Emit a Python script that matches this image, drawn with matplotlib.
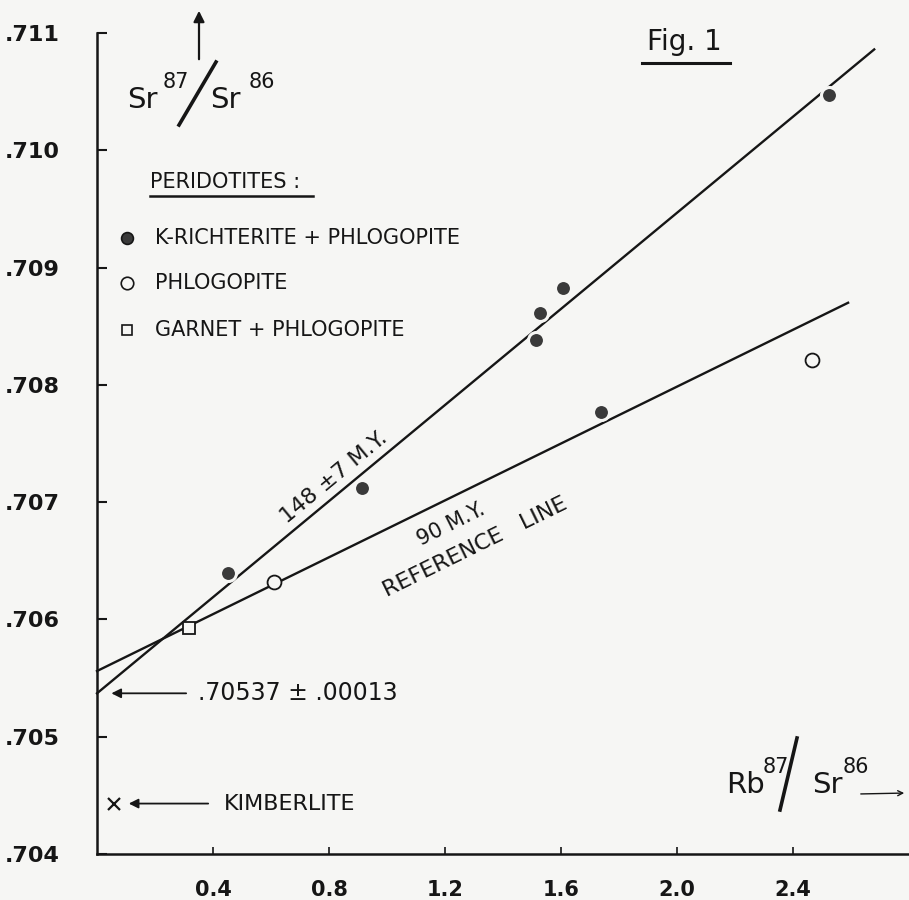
import matplotlib
matplotlib.use("Agg")
import matplotlib.pyplot as plt
from matplotlib.lines import Line2D

# Rb-Sr isochron data
k_richterite_x = [0.45, 0.914, 1.514, 1.528, 1.607, 1.738, 2.524]
k_richterite_y = [0.70640, 0.70712, 0.70838, 0.70861, 0.70883, 0.70777, 0.71047]
phlogopite_x = [0.61, 2.466]
phlogopite_y = [0.70632, 0.70821]
garnet_x = [0.317]
garnet_y = [0.70593]
kimberlite_x = [0.059]
kimberlite_y = [0.70443]

# fitted lines: (x, y) of the two ends
isochron_x = [0.0, 2.68]
isochron_y = [0.70537, 0.71086]
reference_x = [0.0, 2.59]
reference_y = [0.70556, 0.70870]

y_ticks = [0.704, 0.705, 0.706, 0.707, 0.708, 0.709, 0.710, 0.711]
y_labels = [".704", ".705", ".706", ".707", ".708", ".709", ".710", ".711"]
x_ticks = [0.4, 0.8, 1.2, 1.6, 2.0, 2.4]
x_labels = ["0.4", "0.8", "1.2", "1.6", "2.0", "2.4"]

BG = "#f6f6f4"
INK = "#161616"
W, H = 909, 900


def px(x, y):
    # pixel position (from top-left) to figure fraction
    return x / W, 1 - y / H


def main():
    fig = plt.figure(figsize=(W / 100, H / 100), dpi=100, facecolor=BG)
    ax = fig.add_axes([97 / W, 46 / H, 812 / W, 821 / H])
    ax.set_facecolor(BG)
    ax.set_xlim(0, 2.8)
    ax.set_ylim(0.704, 0.711)

    for side in ["top", "right"]:
        ax.spines[side].set_visible(False)
    for side in ["left", "bottom"]:
        ax.spines[side].set_linewidth(1.8)
        ax.spines[side].set_color(INK)

    ax.set_yticks(y_ticks)
    ax.set_yticklabels(y_labels, fontsize=16, fontweight="bold", color=INK)
    ax.set_xticks(x_ticks)
    ax.set_xticklabels(x_labels, fontsize=15, fontweight="bold", color=INK)
    ax.tick_params(axis="y", direction="in", length=7, width=1.5, pad=27, colors=INK)
    ax.tick_params(axis="x", direction="in", length=5, width=1.2, pad=19, colors=INK)

    # the two lines
    ax.plot(isochron_x, isochron_y, color=INK, lw=1.7, clip_on=False, zorder=2)
    ax.plot(reference_x, reference_y, color=INK, lw=1.7, clip_on=False, zorder=2)

    # samples (background-coloured edge breaks the line round each dot)
    ax.plot(k_richterite_x, k_richterite_y, "o", ms=11.5, mfc="#3a3a3a", mec=BG,
            mew=2.2, zorder=3, clip_on=False)
    ax.plot(phlogopite_x, phlogopite_y, "o", ms=10, mfc=BG, mec=INK,
            mew=1.3, zorder=3)
    ax.plot(garnet_x, garnet_y, "s", ms=8, mfc=BG, mec=INK, mew=1.3, zorder=3)
    ax.plot(kimberlite_x, kimberlite_y, "x", ms=8, mec=INK, mew=1.6, zorder=3)

    # intercept and kimberlite arrows
    ax.annotate("", xy=(0.04, isochron_y[0]), xytext=(0.317, isochron_y[0]),
                arrowprops=dict(arrowstyle="-|>", color=INK, lw=1.3,
                                mutation_scale=14))
    ax.text(0.348, isochron_y[0], ".70537 \u00b1 .00013", fontsize=17,
            color=INK, va="center", ha="left")
    ax.annotate("", xy=(0.10, kimberlite_y[0]), xytext=(0.393, kimberlite_y[0]),
                arrowprops=dict(arrowstyle="-|>", color=INK, lw=1.3,
                                mutation_scale=14))
    ax.text(0.438, kimberlite_y[0], "KIMBERLITE", fontsize=16, color=INK,
            va="center", ha="left")

    # labels along the lines
    ax.text(0.817, 0.707214, "148 \u00b17 M.Y.", fontsize=16, color=INK,
            rotation=39.6, rotation_mode="anchor", ha="center", va="center")
    ax.text(1.221, 0.706812, "90 M.Y.", fontsize=15, color=INK,
            rotation=26.5, rotation_mode="anchor", ha="center", va="center")
    ax.text(1.303, 0.706615, "REFERENCE   LINE", fontsize=16, color=INK,
            rotation=26.1, rotation_mode="anchor", ha="center", va="center")

    tf = fig.transFigure

    # Fig. 1 title
    fig.text(*px(647, 50), "Fig. 1", fontsize=20, color=INK, ha="left", va="baseline")
    fig.add_artist(Line2D(*zip(px(642, 63), px(730, 63)), color=INK, lw=2.2,
                          transform=tf))

    # y axis label Sr87/Sr86 with arrow
    fig.add_artist(Line2D(*zip(px(179, 125), px(216, 62)), color=INK, lw=2.6,
                          transform=tf))
    fig.text(*px(127, 108), "Sr", fontsize=21, color=INK, ha="left", va="baseline")
    fig.text(*px(163, 88), "87", fontsize=15, color=INK, ha="left", va="baseline")
    fig.text(*px(210, 108), "Sr", fontsize=21, color=INK, ha="left", va="baseline")
    fig.text(*px(249, 88), "86", fontsize=15, color=INK, ha="left", va="baseline")
    fig.add_artist(matplotlib.patches.FancyArrowPatch(
        px(199, 62), px(199, 8), transform=tf, arrowstyle="-|>",
        mutation_scale=16, color=INK, lw=1.6))

    # x axis label Rb87/Sr86 with arrow
    fig.add_artist(Line2D(*zip(px(780, 810), px(797, 738)), color=INK, lw=2.6,
                          transform=tf))
    fig.text(*px(726, 793), "Rb", fontsize=21, color=INK, ha="left", va="baseline")
    fig.text(*px(763, 773), "87", fontsize=15, color=INK, ha="left", va="baseline")
    fig.text(*px(812, 793), "Sr", fontsize=21, color=INK, ha="left", va="baseline")
    fig.text(*px(843, 773), "86", fontsize=15, color=INK, ha="left", va="baseline")
    fig.add_artist(matplotlib.patches.FancyArrowPatch(
        px(858, 794), px(907, 793), transform=tf, arrowstyle="->",
        mutation_scale=9, color=INK, lw=1.0))

    # key
    fig.text(*px(150, 188), "PERIDOTITES :", fontsize=15, color=INK,
             ha="left", va="baseline")
    fig.add_artist(Line2D(*zip(px(150, 196), px(313, 196)), color=INK, lw=1.8,
                          transform=tf))
    key_rows = [
        (238, "o", "#3a3a3a", "K-RICHTERITE + PHLOGOPITE", 8.5),
        (283, "o", BG, "PHLOGOPITE", 9),
        (330, "s", BG, "GARNET + PHLOGOPITE", 7.5),
    ]
    for y, marker, face, label, size in key_rows:
        fig.add_artist(Line2D([px(127, y)[0]], [px(127, y)[1]], marker=marker,
                              ms=size, mfc=face, mec=INK, mew=1.2, ls="none",
                              transform=tf))
        fig.text(*px(155, y), label, fontsize=15, color=INK, ha="left",
                 va="center")

    fig.savefig("out.png", dpi=100, facecolor=BG)


if __name__ == "__main__":
    main()
